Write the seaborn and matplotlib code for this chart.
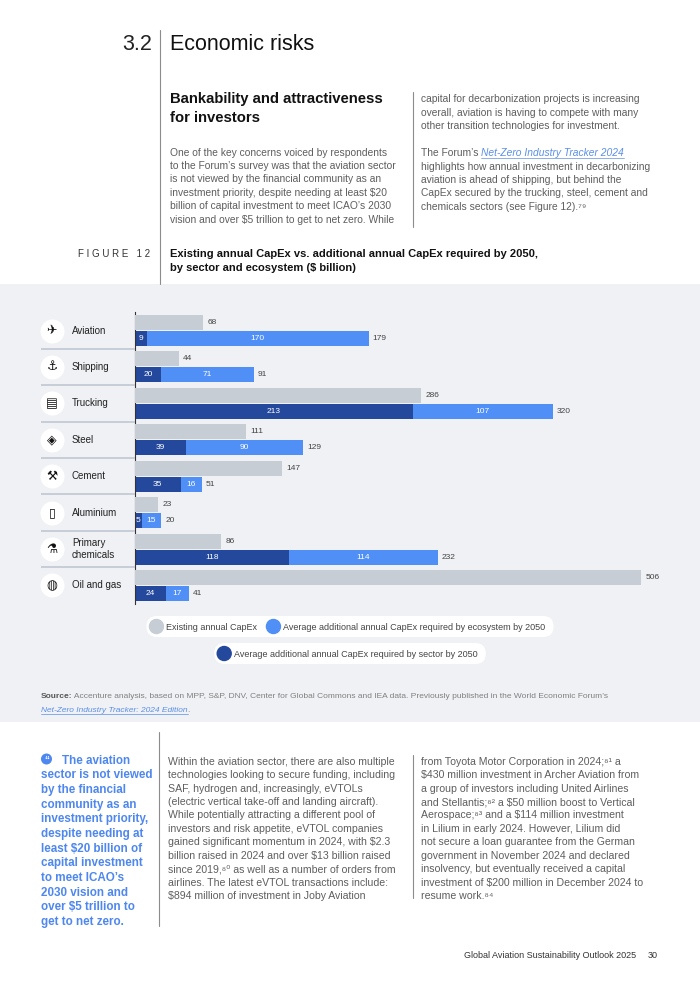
import numpy as np
import matplotlib
matplotlib.use("Agg")
import matplotlib.pyplot as plt
from matplotlib.patches import Rectangle, Circle, FancyBboxPatch
import seaborn as sns

# -----------------------------------------
# Data (Figure 12, $ billion)
# -----------------------------------------
sectors = ["Aviation", "Shipping", "Trucking", "Steel", "Cement",
           "Aluminium", "Primary\nchemicals", "Oil and gas"]
existing_capex = [68, 44, 286, 111, 147, 23, 86, 506]
sector_capex = [9, 20, 213, 39, 35, 5, 118, 24]
ecosystem_capex = [170, 71, 107, 90, 16, 15, 114, 17]
required_total = [179, 91, 320, 129, 51, 20, 232, 41]

legend_row1 = ["Existing annual CapEx",
               "Average additional annual CapEx required by ecosystem by 2050"]
legend_row2 = ["Average additional annual CapEx required by sector by 2050"]

icons = ["✈", "⚓", "▤", "◈", "⚒", "▯", "⚗", "◍"]

# -----------------------------------------
# Page text
# -----------------------------------------
left_intro = [
    "One of the key concerns voiced by respondents",
    "to the Forum’s survey was that the aviation sector",
    "is not viewed by the financial community as an",
    "investment priority, despite needing at least $20",
    "billion of capital investment to meet ICAO’s 2030",
    "vision and over $5 trillion to get to net zero. While",
]
right_intro = [
    "capital for decarbonization projects is increasing",
    "overall, aviation is having to compete with many",
    "other transition technologies for investment.",
    "",
    None,  # line with link
    "highlights how annual investment in decarbonizing",
    "aviation is ahead of shipping, but behind the",
    "CapEx secured by the trucking, steel, cement and",
    "chemicals sectors (see Figure 12).⁷⁹",
]
quote_lines = [
    "The aviation", "sector is not viewed", "by the financial",
    "community as an", "investment priority,", "despite needing at",
    "least $20 billion of", "capital investment", "to meet ICAO’s",
    "2030 vision and", "over $5 trillion to", "get to net zero.",
]
mid_lines = [
    "Within the aviation sector, there are also multiple",
    "technologies looking to secure funding, including",
    "SAF, hydrogen and, increasingly, eVTOLs",
    "(electric vertical take-off and landing aircraft).",
    "While potentially attracting a different pool of",
    "investors and risk appetite, eVTOL companies",
    "gained significant momentum in 2024, with $2.3",
    "billion raised in 2024 and over $13 billion raised",
    "since 2019,⁸⁰ as well as a number of orders from",
    "airlines. The latest eVTOL transactions include:",
    "$894 million of investment in Joby Aviation",
]
right_lines = [
    "from Toyota Motor Corporation in 2024;⁸¹ a",
    "$430 million investment in Archer Aviation from",
    "a group of investors including United Airlines",
    "and Stellantis;⁸² a $50 million boost to Vertical",
    "Aerospace;⁸³ and a $114 million investment",
    "in Lilium in early 2024. However, Lilium did",
    "not secure a loan guarantee from the German",
    "government in November 2024 and declared",
    "insolvency, but eventually received a capital",
    "investment of $200 million in December 2024 to",
    "resume work.⁸⁴",
]

# -----------------------------------------
# Style
# -----------------------------------------
sns.set_theme(style="white")
plt.rcParams["font.family"] = ["Liberation Sans", "DejaVu Sans"]
plt.rcParams["text.parse_math"] = False

GREY_BAR = "#c6cdd4"
LIGHT_BLUE = "#4f8ff6"
DARK_BLUE = "#24489b"
PANEL = "#eff1f4"
BODY = "#5e5e5e"
LINK = "#5a8fe6"
QUOTE = "#4d87ef"
RULE = "#8c8c8c"
TOP_SIZE = 7.35
LOW_SIZE = 7.55

W, H = 700, 990
fig = plt.figure(figsize=(W / 100, H / 100), dpi=100)
fig.patch.set_facecolor("white")

# full-page axes in pixel units (y down)
page = fig.add_axes([0, 0, 1, 1])
page.set_xlim(0, W)
page.set_ylim(H, 0)
page.axis("off")
renderer = fig.canvas.get_renderer()

page.add_patch(Rectangle((0, 284), W, 438, color=PANEL, lw=0, zorder=0))


def txt(x, y, s, size=TOP_SIZE, color=BODY, weight="normal", style="normal", ha="left"):
    return page.text(x, y, s, fontsize=size, color=color, fontweight=weight,
                     fontstyle=style, ha=ha, va="center_baseline")


def width_of(t):
    return t.get_window_extent(renderer=renderer).width


def measure(s, size, **kw):
    t = txt(10, 10, s, size, **kw)
    w = width_of(t)
    t.remove()
    return w


def runs(x, y, parts, size=TOP_SIZE):
    # draw text pieces one after another; kind: bold / link / a colour
    for s, kind in parts:
        if kind == "link":
            t = txt(x, y, s, size, LINK, style="italic")
            w = width_of(t)
            uy = y + size * 100 / 72 * 0.58
            page.plot([x, x + w], [uy, uy], color=LINK, lw=0.5)
        elif kind == "bold":
            t = txt(x, y, s, size, "#555555", weight="bold")
            w = width_of(t)
        else:
            t = txt(x, y, s, size, kind)
            w = width_of(t)
        x += w


def rule(x, y0, y1):
    page.plot([x, x], [y0, y1], color=RULE, lw=0.8)


# -----------------------------------------
# Header block
# -----------------------------------------
txt(152, 42, "3.2", size=15.5, color="#222222", ha="right")
txt(170, 42, "Economic risks", size=15.5, color="#111111")
rule(160, 30, 284)
rule(413, 92, 227)

txt(170, 98, "Bankability and attractiveness", size=10.75, color="#111111", weight="bold")
txt(170, 117, "for investors", size=10.75, color="#111111", weight="bold")

for k, s in enumerate(left_intro):
    txt(170, 151.5 + 13.45 * k, s)

space_w = measure("a a", TOP_SIZE) - measure("aa", TOP_SIZE)
for k, s in enumerate(right_intro):
    y = 98.3 + 13.45 * k
    if s is None:
        t = txt(421, y, "The Forum’s")
        runs(421 + width_of(t) + space_w, y, [("Net-Zero Industry Tracker 2024", "link")])
    elif s:
        txt(421, y, s)

txt(150, 253, "F I G U R E   1 2", size=7, color="#333333", ha="right")
txt(170, 253, "Existing annual CapEx vs. additional annual CapEx required by 2050,",
    size=8.0, color="#111111", weight="bold")
txt(170, 267, "by sector and ecosystem ($ billion)", size=8.0, color="#111111", weight="bold")

# -----------------------------------------
# Chart
# -----------------------------------------
n = len(sectors)
top, bot = 312.3, 603.7
x0, x1 = 135, 680
rect = [x0 / W, 1 - bot / H, (x1 - x0) / W, (bot - top) / H]
shift = 0.22
bar_h = 0.41
grey_px_per_unit = 1.0
blue_px_per_unit = 1.305

ax_b = fig.add_axes(rect)
ax_g = fig.add_axes(rect)

sns.barplot(x=required_total, y=sectors, orient="h", color=LIGHT_BLUE, saturation=1,
            width=bar_h, errorbar=None, linewidth=0, ax=ax_b)
sns.barplot(x=sector_capex, y=sectors, orient="h", color=DARK_BLUE, saturation=1,
            width=bar_h, errorbar=None, linewidth=0, ax=ax_b)
sns.barplot(x=existing_capex, y=sectors, orient="h", color=GREY_BAR, saturation=1,
            width=bar_h, errorbar=None, linewidth=0, ax=ax_g)

ax_g.set_xlim(0, (x1 - x0) / grey_px_per_unit)
ax_b.set_xlim(0, (x1 - x0) / blue_px_per_unit)
ax_g.set_ylim(n - 0.5 + shift, -0.5 + shift)
ax_b.set_ylim(n - 0.5 - shift, -0.5 - shift)

for ax in (ax_b, ax_g):
    ax.set_facecolor("none")
    ax.set_xticks([])
    ax.set_yticks([])
    ax.set_xlabel("")
    ax.set_ylabel("")
sns.despine(ax=ax_g, left=True, bottom=True)
sns.despine(ax=ax_b, bottom=True)
ax_b.spines["left"].set_color("#333333")
ax_b.spines["left"].set_linewidth(0.8)

for i in range(n):
    ax_g.annotate(str(existing_capex[i]), (existing_capex[i], i), xytext=(3, 0),
                  textcoords="offset points", va="center", fontsize=6, color="#444444")
    ax_b.text(sector_capex[i] / 2, i, str(sector_capex[i]), ha="center", va="center",
              fontsize=6, color="white")
    ax_b.text(sector_capex[i] + ecosystem_capex[i] / 2, i, str(ecosystem_capex[i]),
              ha="center", va="center", fontsize=6, color="white")
    ax_b.annotate(str(required_total[i]), (required_total[i], i), xytext=(3, 0),
                  textcoords="offset points", va="center", fontsize=6, color="#444444")

# sector labels with icons
ax_l = fig.add_axes([40 / W, 1 - bot / H, 95 / W, (bot - top) / H])
ax_l.set_xlim(0, 95)
ax_l.set_ylim(n - 0.5, -0.5)
ax_l.axis("off")
ax_l.hlines(np.arange(n - 1) + 0.5, 1, 95, color="#c3cbd4", lw=1.3)
ax_l.scatter(np.full(n, 12), np.arange(n), s=300, color="white", zorder=2, linewidths=0)
for i, name in enumerate(sectors):
    ax_l.text(12, i, icons[i], ha="center", va="center", fontsize=9, color="#111111",
              family="DejaVu Sans", zorder=3)
    ax_l.text(32, i, name, ha="left", va="center", fontsize=7, color="#222222",
              linespacing=1.15)


# legend pills
def pill(y, labels, colors):
    widths = [measure(s, 6.5) for s in labels]
    total = sum(20 + w for w in widths) + 6 * (len(labels) - 1) + 8
    x = W / 2 - total / 2
    page.add_patch(FancyBboxPatch((x, y - 10.5), total, 21,
                                  boxstyle="round,pad=0,rounding_size=10.5",
                                  fc="white", ec="none", zorder=1))
    cx = x + 10
    for s, c, w in zip(labels, colors, widths):
        page.add_patch(Circle((cx, y), 7, color=c, zorder=2))
        txt(cx + 10, y, s, size=6.5, color="#444444")
        cx += 20 + w + 6


pill(626.5, legend_row1, [GREY_BAR, LIGHT_BLUE])
pill(653.5, legend_row2, [DARK_BLUE])

runs(41, 695, [("Source:", "bold"),
               (" Accenture analysis, based on MPP, S&P, DNV, Center for Global Commons and IEA "
                "data. Previously published in the World Economic Forum’s", "#808080")], size=6.05)
runs(41, 709, [("Net-Zero Industry Tracker: 2024 Edition", "link"), (".", "#808080")], size=6.05)

# -----------------------------------------
# Lower block
# -----------------------------------------
page.add_patch(Circle((46.5, 759), 4.8, color=QUOTE))
page.text(46.5, 760.5, "“", fontsize=7, color="white", ha="center", va="center", weight="bold")
for k, s in enumerate(quote_lines):
    txt(62 if k == 0 else 41, 759 + 14.7 * k, s, size=8.4, color=QUOTE, weight="bold")

rule(159, 732, 926)
rule(413, 755, 898)
for k, s in enumerate(mid_lines):
    txt(168, 760.7 + 13.45 * k, s, size=LOW_SIZE)
for k, s in enumerate(right_lines):
    txt(421, 760.7 + 13.45 * k, s, size=LOW_SIZE)

txt(636, 955, "Global Aviation Sustainability Outlook 2025", size=6.5, color="#333333", ha="right")
txt(648, 955, "30", size=6.5, color="#333333")

fig.savefig("out.png", dpi=100)
